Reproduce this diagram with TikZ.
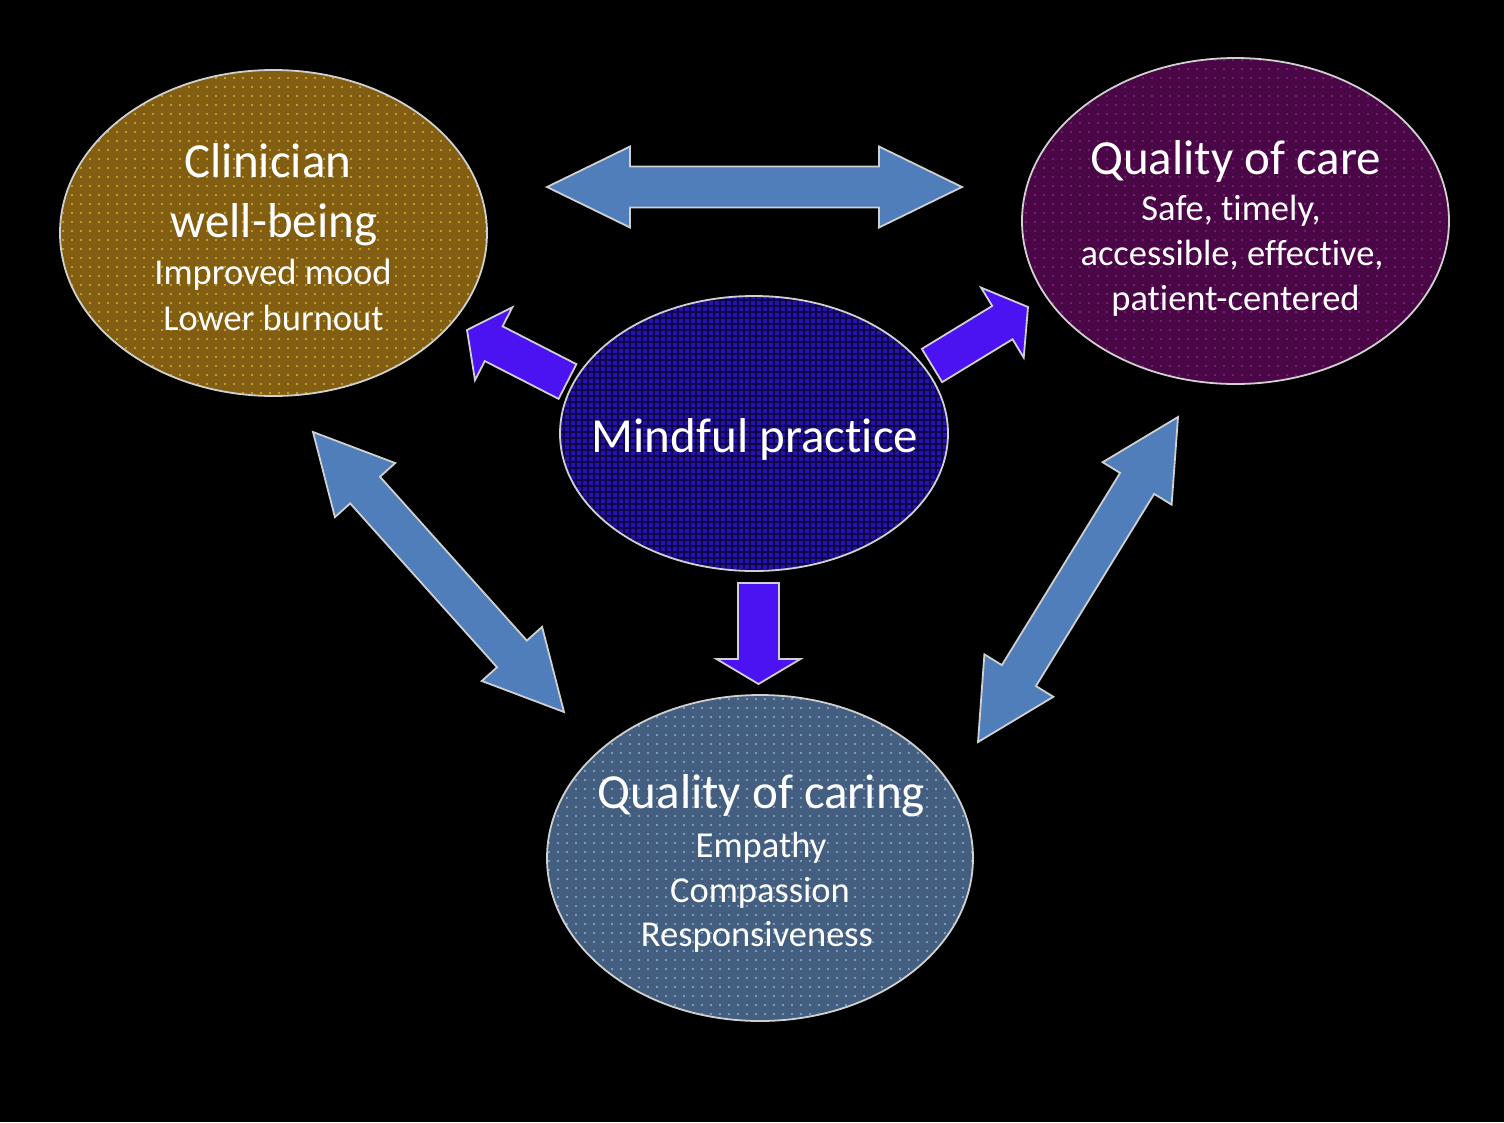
\documentclass[tikz,border=0pt]{standalone}
\usepackage{fontspec}
\setmainfont[Ligatures=NoCommon]{Carlito}
\usetikzlibrary{calc,shapes.geometric,patterns.meta}
\definecolor{cwcol}{HTML}{825E12}
\definecolor{cwdot}{HTML}{E0AE2C}
\definecolor{qccol}{HTML}{4A0746}
\definecolor{qcdot}{HTML}{8C1C8C}
\definecolor{mpcol}{HTML}{2612B0}
\definecolor{mpgrid}{HTML}{0E0548}
\definecolor{qgcol}{HTML}{435E7E}
\definecolor{qgdot}{HTML}{8AB0E0}
\definecolor{bigarr}{HTML}{4F7EBA}
\definecolor{violarr}{HTML}{4B12F2}
\definecolor{rimcol}{HTML}{D0D0D0}
\newcommand\dblarr[6]{%
  \path ($(#1)!#5!(#2)$) coordinate (tmpP) ($(#2)!#5!(#1)$) coordinate (tmpQ);
  \draw[#6] (#1) -- ($(tmpP)!#4!90:(#2)$) -- ($(tmpP)!#3!90:(#2)$)
    -- ($(tmpQ)!#3!-90:(#1)$) -- ($(tmpQ)!#4!-90:(#1)$) -- (#2)
    -- ($(tmpQ)!#4!90:(#1)$) -- ($(tmpQ)!#3!90:(#1)$)
    -- ($(tmpP)!#3!-90:(#2)$) -- ($(tmpP)!#4!-90:(#2)$) -- cycle;}
\newcommand\sglarr[6]{%
  \path ($(#2)!#5!(#1)$) coordinate (tmpQ);
  \draw[#6] ($(#1)!#3!90:(#2)$) -- ($(tmpQ)!#3!-90:(#1)$) -- ($(tmpQ)!#4!-90:(#1)$)
    -- (#2) -- ($(tmpQ)!#4!90:(#1)$) -- ($(tmpQ)!#3!90:(#1)$)
    -- ($(#1)!#3!-90:(#2)$) -- cycle;}
\tikzset{
  oval/.style={ellipse, draw=rimcol, line width=1.8pt, inner sep=0pt},
  lbl/.style={text=white, inner sep=0pt, anchor=base},
  big/.style={font=\fontsize{49}{58}\selectfont},
  small/.style={font=\fontsize{36.5}{44}\selectfont},
  bluearrow/.style={fill=bigarr, draw=rimcol, line width=1.8pt, line join=miter},
  violetarrow/.style={fill=violarr, draw=rimcol, line width=1.8pt, line join=miter}
}
\begin{document}
\begin{tikzpicture}[x=1pt,y=-1pt]
\fill[black] (0,0) rectangle (1504,1122);
\useasboundingbox (0,0) rectangle (1504,1122);
% ellipses
\node[oval, minimum width=427pt, minimum height=326pt, preaction={fill=cwcol},
  pattern={Dots[distance=9pt, radius=1.2pt]}, pattern color=cwdot] (cw) at (273.5,233) {};
\node[oval, minimum width=427pt, minimum height=326pt, preaction={fill=qccol},
  pattern={Dots[distance=9pt, radius=1.1pt]}, pattern color=qcdot] (qc) at (1235.5,221) {};
\node[oval, minimum width=388pt, minimum height=275pt, preaction={fill=mpcol},
  pattern={Hatch[distance=6pt, angle=0, line width=1.1pt]}, pattern color=mpgrid] (mp) at (754,433.5) {};
\node[oval, minimum width=426pt, minimum height=326pt, preaction={fill=qgcol},
  pattern={Dots[distance=9pt, radius=1.1pt]}, pattern color=qgdot] (qg) at (760,858) {};
% texts
\node[lbl, big] (cw1) at (268,177) {Clinician};
\node[lbl, big] (cw2) at (274,237) {well-being};
\node[lbl, small] (cw3) at (273,284) {Improved mood};
\node[lbl, small] (cw4) at (273.5,330) {Lower burnout};
\node[lbl, big] (qc1) at (1235.5,174) {Quality of care};
\node[lbl, small] (qc2) at (1231,220) {Safe, timely,};
\node[lbl, small] (qc3) at (1232,265) {accessible, effective,};
\node[lbl, small] (qc4) at (1235.5,310) {patient-centered};
\node[lbl, big] (mp1) at (755,452) {Mindful practice};
\node[lbl, big] (qg1) at (761.5,808) {Quality of caring};
\node[lbl, small] (qg2) at (761,857) {Empathy};
\node[lbl, small] (qg3) at (760,902) {Compassion};
\node[lbl, small] (qg4) at (757,946) {Responsiveness};
% arrow end points
\coordinate (ha1) at (547,187);
\coordinate (ha2) at (962,187);
\coordinate (la1) at (313,432);
\coordinate (la2) at (564,712);
\coordinate (ra1) at (1178,417);
\coordinate (ra2) at (978,742);
\coordinate (sl1) at (567.5,381.5);
\coordinate (sl2) at (467,330);
\coordinate (sr1) at (932,365.5);
\coordinate (sr2) at (1028,307);
\coordinate (sd1) at (758.5,583);
\coordinate (sd2) at (758.5,684);
% arrows
\dblarr{ha1}{ha2}{20.5pt}{40.5pt}{83pt}{bluearrow}
\dblarr{la1}{la2}{20pt}{40.5pt}{78pt}{bluearrow}
\dblarr{ra1}{ra2}{20pt}{40.5pt}{78pt}{bluearrow}
\sglarr{sl1}{sl2}{19.5pt}{41pt}{30pt}{violetarrow}
\sglarr{sr1}{sr2}{19.5pt}{41pt}{30pt}{violetarrow}
\sglarr{sd1}{sd2}{20.5pt}{42pt}{25pt}{violetarrow}
\end{tikzpicture}
\end{document}
